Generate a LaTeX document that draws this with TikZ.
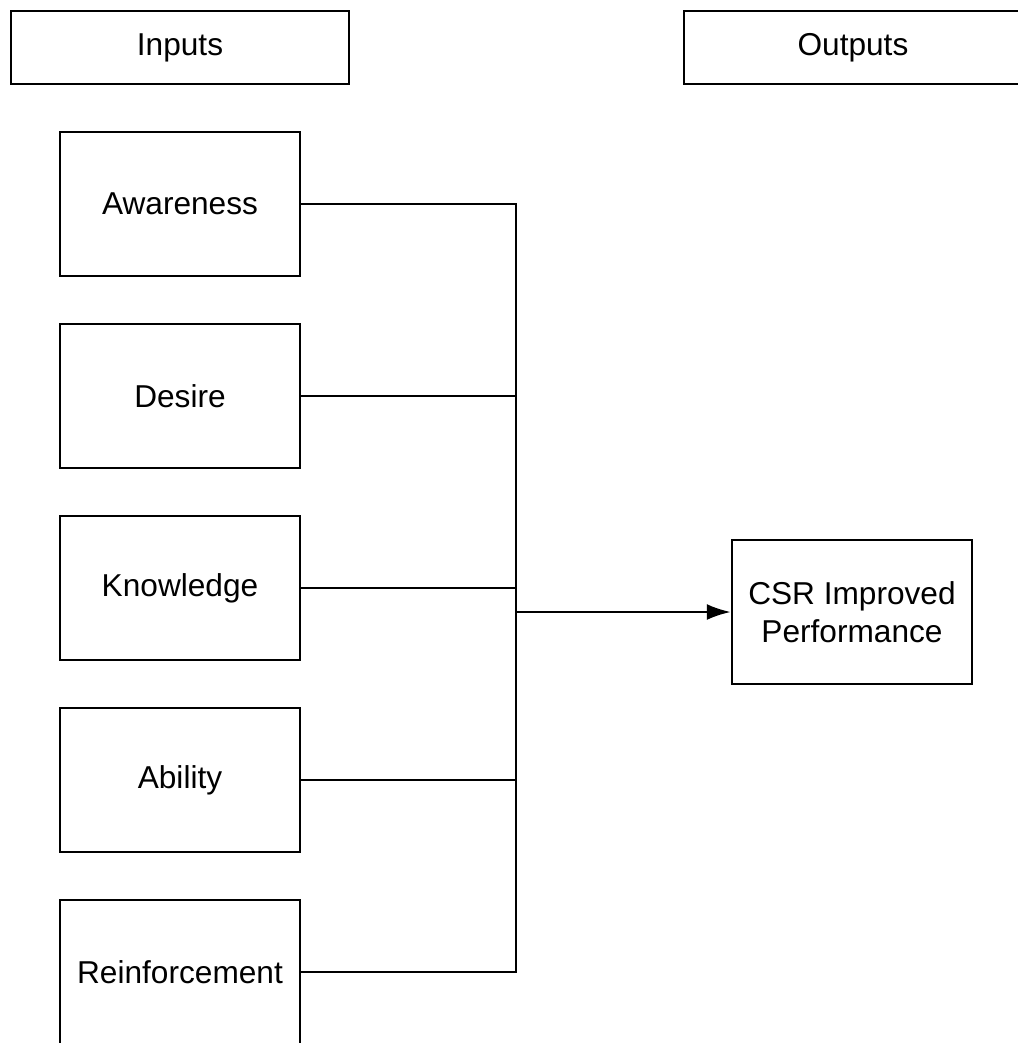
\documentclass[tikz,border=0pt]{standalone}
\usepackage{fontspec}
\setmainfont{Liberation Sans}
\usetikzlibrary{arrows.meta,positioning}

\begin{document}
\begin{tikzpicture}[node distance=0.91cm,line width=1.4pt]
  \tikzstyle{hd}=[rectangle,draw=black,minimum width=6.76cm,minimum height=1.46cm,font=\fontsize{18}{21.5}\selectfont]
  \tikzstyle{bx}=[rectangle,draw=black,minimum width=4.8cm,minimum height=2.88cm,align=center,font=\fontsize{18}{21.5}\selectfont]
  \tikzstyle{arr}=[-{Latex[length=4.8mm,width=3.2mm]}]
  \clip (0,0) rectangle (20.36,-20.86);
  \useasboundingbox (0,0) rectangle (20.36,-20.86);
  % headers
  \node[hd] (inputs) at (3.6,-0.95) {Inputs};
  \node[hd,right=6.65cm of inputs] (outputs) {Outputs};
  % input boxes
  \node[bx,below=of inputs] (aw) {Awareness};
  \node[bx,below=of aw] (de) {Desire};
  \node[bx,below=of de] (kn) {Knowledge};
  \node[bx,below=of kn] (ab) {Ability};
  \node[bx,below=of ab] (re) {Reinforcement};
  % output box
  \node[bx] (csr) at (17.04,-12.24) {CSR Improved\\Performance};
  % bus line
  \coordinate (bus) at (10.32,0);
  \draw (aw.east) -| (bus |- re.east) -- (re.east);
  \foreach \n in {de,kn,ab}
    \draw (\n.east) -- (\n.east -| bus);
  \draw[arr] (bus |- csr.west) -- (csr.west);
\end{tikzpicture}
\end{document}
